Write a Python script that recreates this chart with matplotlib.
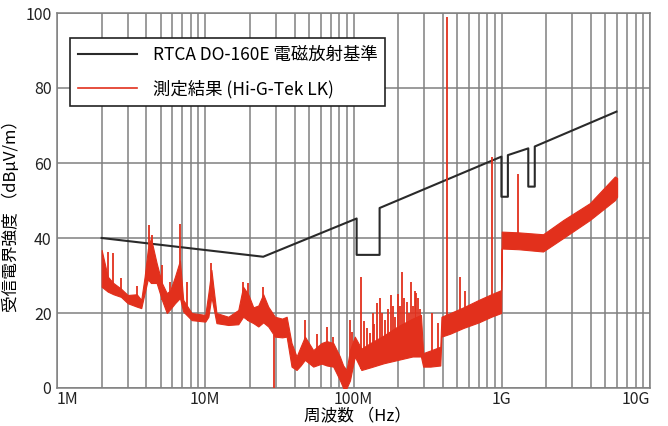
import numpy as np
import matplotlib.pyplot as plt

plt.rcParams['font.family'] = ['Noto Sans CJK JP', 'DejaVu Sans']

# RTCA DO-160E limit line (MHz, dBuV/m)
limit_freq = [2.0, 24.6, 105, 105, 150, 150, 995, 995, 1100, 1100, 1510, 1510, 1670, 1670, 5940]
limit_level = [40.0, 35.0, 45.2, 35.5, 35.5, 48.0, 61.7, 51.0, 51.0, 62.1, 63.9, 53.7, 53.7, 64.4, 73.7]

meas_freq = [2.0, 2.2, 2.4, 2.7, 3.0, 3.45, 3.7, 3.9, 4.1, 4.3, 4.7, 5.1, 5.5, 5.8,
             6.25, 6.75, 7.1, 8.1, 10.0, 10.5, 11.0, 11.9, 14.3, 16.7, 18.0, 19.5,
             21.1, 22.8, 24.6, 26.6, 29.5, 33.0, 35.4, 38.2, 41.3, 44.0, 47.0, 53.5,
             60.9, 66.0, 73.0, 80.9, 85.2, 89.8, 94.6, 102, 113, 130, 160, 200, 250,
             285, 295, 330, 385, 392, 450, 550, 700, 850, 990, 1000, 1300, 1900,
             2600, 3930, 5800, 6000]
meas_low = [27.0, 25.7, 25.0, 24.3, 22.6, 21.7, 21.3, 25.3, 29.0, 28.0, 28.0, 23.5, 20.0, 21.0,
            22.6, 24.0, 20.4, 18.1, 17.7, 19.0, 24.4, 17.3, 16.8, 17.0, 19.0, 18.0,
            17.3, 16.4, 17.5, 16.4, 13.7, 13.5, 13.7, 5.7, 4.8, 6.0, 7.5, 5.7,
            6.5, 6.0, 5.7, 2.1, 0.0, 0.0, 2.0, 8.4, 4.8, 5.5, 6.6, 7.5, 8.4,
            8.4, 5.7, 5.7, 6.0, 13.7, 14.5, 16.0, 17.5, 19.0, 20.0, 37.2, 37.0, 36.4,
            40.0, 44.8, 50.1, 51.0]
meas_high = [36.8, 29.7, 28.0, 26.5, 24.8, 25.0, 23.5, 29.7, 37.0, 40.0, 33.3, 28.0, 25.3, 26.0,
             29.7, 34.0, 23.5, 20.0, 19.5, 25.3, 31.5, 20.0, 19.0, 20.8, 27.0, 25.0,
             21.5, 22.0, 25.0, 21.7, 19.0, 18.5, 19.0, 12.0, 8.4, 11.0, 13.7, 10.1,
             12.0, 12.5, 12.0, 8.4, 6.0, 4.8, 10.1, 13.7, 10.5, 12.0, 14.0, 16.5, 18.5,
             19.5, 9.3, 10.0, 11.0, 19.0, 20.0, 21.5, 23.5, 25.0, 26.1, 41.7, 41.5, 41.0,
             44.8, 49.3, 56.4, 56.0]

# narrow spikes above the band (MHz, peak level)
spike_freq = [2.2, 2.4, 2.7, 3.45, 4.2, 4.4, 5.1, 5.8, 6.75, 7.5, 11.0, 18.0, 19.5, 24.6,
              47, 57, 66, 73, 95, 98, 112, 118, 124, 129, 135, 138, 143, 150, 155, 163, 170,
              179, 185, 192, 200, 205, 211, 218, 228, 235, 244, 252, 258, 264, 273, 280,
              336, 372, 424, 522, 564, 853, 1290]
spike_level = [36.4, 36.0, 29.3, 27.2, 43.5, 40.8, 32.8, 28.4, 43.7, 28.4, 33.3, 28.4, 28.0, 27.0,
               18.1, 14.5, 16.4, 13.7, 18.1, 15.0, 29.7, 18.0, 16.0, 14.6, 20.0, 17.0, 22.6, 23.9,
               20.0, 18.1, 21.0, 24.8, 22.0, 19.0, 25.0, 22.0, 31.0, 24.0, 23.0, 20.0, 28.4, 22.0,
               26.0, 25.3, 24.0, 21.0, 20.0, 17.3, 99.0, 29.7, 26.0, 61.6, 57.2]
# dips below the band
dip_freq = [29.0]
dip_level = [0.0]

red = '#e2301c'
fig = plt.figure(figsize=(6.68, 4.26), dpi=100)
ax = fig.add_axes([57 / 668, 1 - 388 / 426, 593 / 668, 375 / 426])

mf = np.array(meas_freq) * 1e6
ax.fill_between(mf, meas_low, meas_high, color=red, lw=0.8, edgecolor=red, zorder=3)
sf = np.array(spike_freq) * 1e6
base = np.interp(np.log10(sf), np.log10(mf), meas_low)
ax.vlines(sf, base, spike_level, color=red, lw=1.3, zorder=3)
df = np.array(dip_freq) * 1e6
ax.vlines(df, dip_level, np.interp(np.log10(df), np.log10(mf), meas_low), color=red, lw=1.3, zorder=3)

ax.plot(np.array(limit_freq) * 1e6, limit_level, color='#2a2a2a', lw=1.5, zorder=2,
        label='RTCA DO-160E 電磁放射基準')
ax.plot([], [], color=red, lw=1.2, label='測定結果 (Hi-G-Tek LK)')

ax.set_xscale('log')
ax.set_xlim(1e6, 1e10)
ax.set_ylim(0, 100)
ax.set_xticks([1e6, 1e7, 1e8, 1e9, 1e10])
ax.set_xticklabels(['1M', '10M', '100M', '1G', '10G'])
xl = ax.get_xticklabels()
xl[0].set_horizontalalignment('left')
xl[-1].set_horizontalalignment('right')
ax.xaxis.set_minor_locator(plt.matplotlib.ticker.LogLocator(base=10, subs=np.arange(2, 10)))
ax.xaxis.set_minor_formatter(plt.NullFormatter())
ax.set_yticks([0, 20, 40, 60, 80, 100])
ax.tick_params(which='both', length=0, labelsize=11.5, colors='#222222')
ax.tick_params(axis='x', pad=2)
ax.tick_params(axis='y', pad=4)
ax.grid(True, which='both', axis='x', color='#808080', lw=1.1, zorder=0)
ax.grid(True, which='major', axis='y', color='#808080', lw=1.1, zorder=0)
ax.set_axisbelow(True)
for s in ax.spines.values():
    s.set_color('#808080')
    s.set_linewidth(1.1)

ax.set_ylabel('受信電界強度 （dBμV/m）', fontsize=12)
ax.yaxis.set_label_coords(-0.062, 0.47)
ax.set_xlabel('周波数 （Hz）', fontsize=12, va='center')
ax.xaxis.set_label_coords(0.507, -0.074)

leg = ax.legend(loc='upper left', bbox_to_anchor=(0.022, 0.933), borderaxespad=0,
                fontsize=12.5, handlelength=3.4, handletextpad=0.9, labelspacing=0.9,
                borderpad=0.45, fancybox=False, framealpha=1, edgecolor='#222222')
leg.get_frame().set_linewidth(1.2)
leg.set_zorder(5)

fig.savefig('out.png', dpi=100)
